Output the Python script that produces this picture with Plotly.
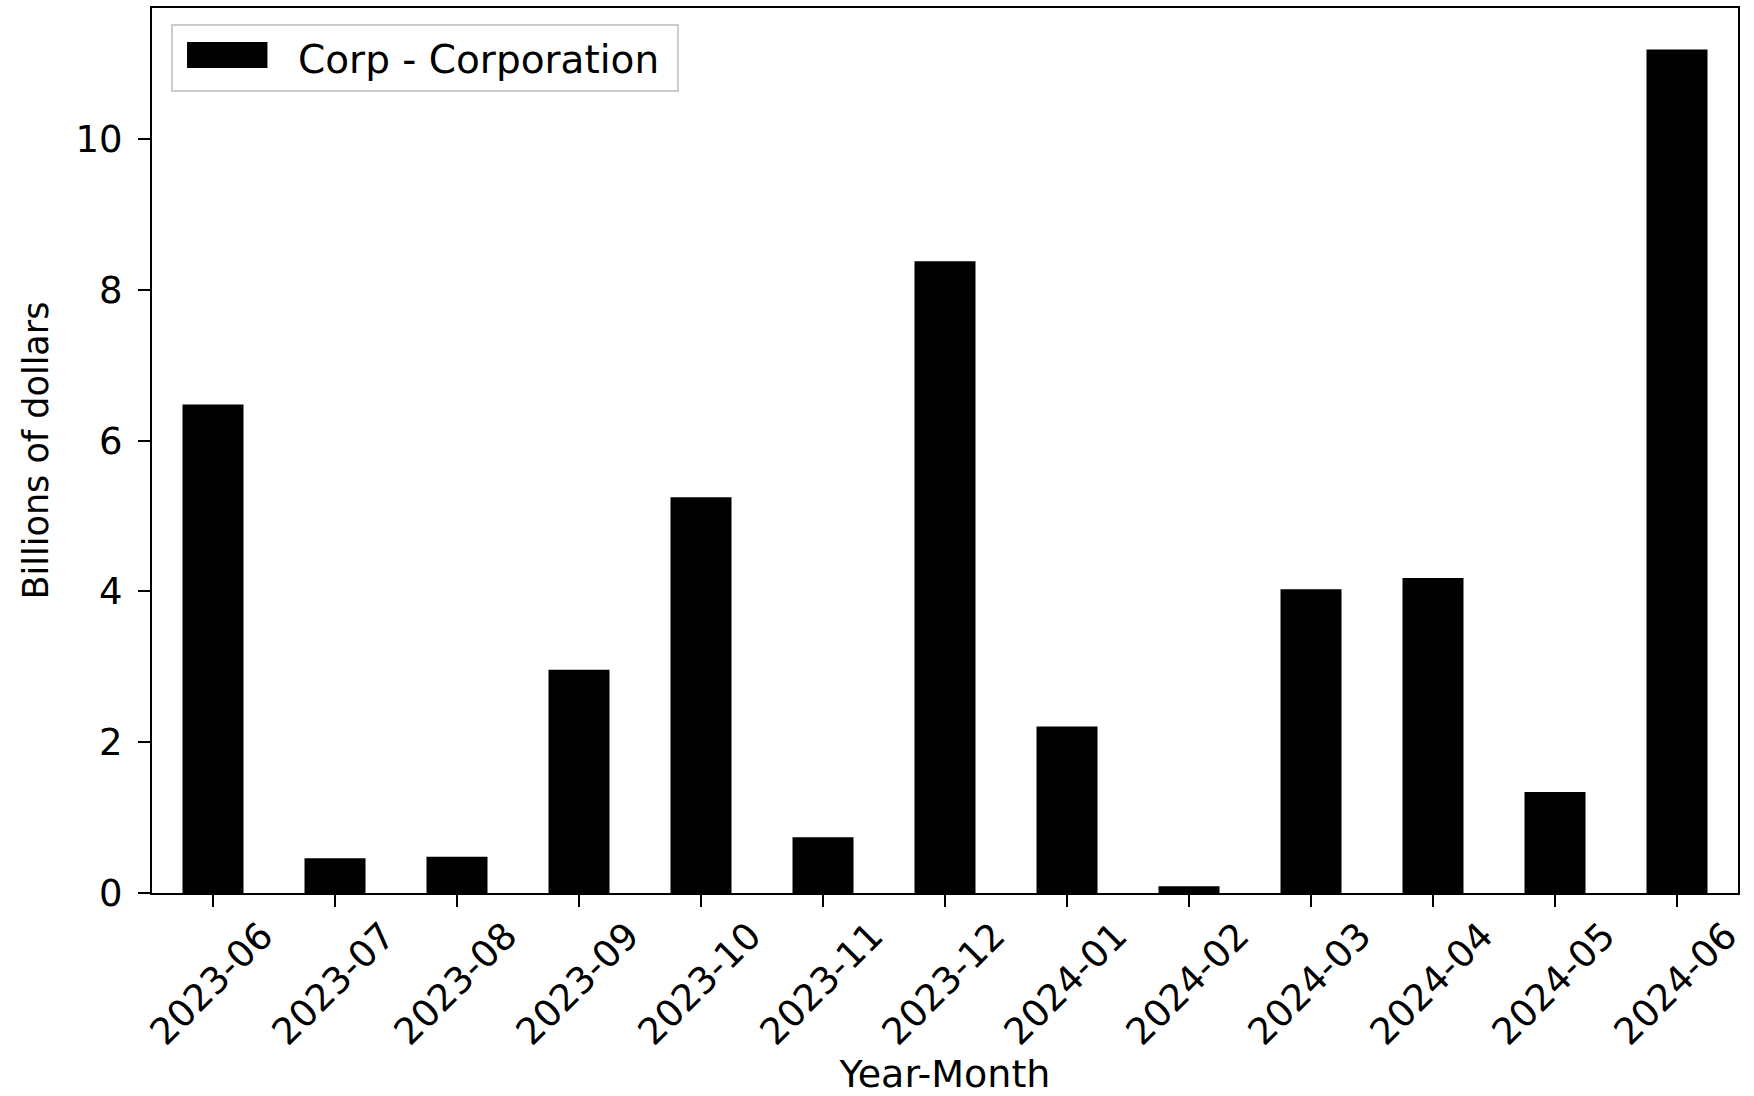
import plotly.graph_objects as go

months = ["2023-06", "2023-07", "2023-08", "2023-09", "2023-10", "2023-11", "2023-12",
          "2024-01", "2024-02", "2024-03", "2024-04", "2024-05", "2024-06"]
values = [6.48, 0.46, 0.48, 2.96, 5.25, 0.74, 8.38, 2.21, 0.09, 4.03, 4.18, 1.34, 11.19]
series_name = "Corp - Corporation"
y_ticks = [0, 2, 4, 6, 8, 10]

FONT = "DejaVu Sans"

fig = go.Figure()
fig.add_trace(go.Bar(x=months, y=values, width=0.5, marker=dict(color="black", line=dict(width=0)),
                     name=series_name, showlegend=False))
# legend entry (symbol hidden; wide swatch drawn as a layout shape like matplotlib's patch)
fig.add_trace(go.Scatter(x=[None], y=[None], mode="lines", name=series_name + "\u00a0",
                         line=dict(color="rgba(0,0,0,0)", width=1)))

fig.add_shape(type="rect", xref="paper", yref="paper",
              x0=0.0221, x1=0.0728, y0=0.9322, y1=0.9616,
              fillcolor="black", line=dict(width=0), layer="above")

fig.update_layout(
    width=1754, height=1096,
    margin=dict(l=152, r=16, t=8, b=203),
    paper_bgcolor="white", plot_bgcolor="white",
    font=dict(family=FONT, size=37, color="black"),
    legend=dict(x=0.012, y=0.982, xanchor="left", yanchor="top",
                bordercolor="#cccccc", borderwidth=2, bgcolor="rgba(0,0,0,0)",
                font=dict(size=39), itemwidth=115),
    xaxis=dict(type="category", range=[-0.5, len(months) - 0.5],
               showline=True, linecolor="black", linewidth=2, mirror=True,
               ticks="outside", ticklen=12, tickwidth=2, tickcolor="black",
               tickangle=-45, ticklabelshift=49, ticklabelstandoff=-8,
               tickfont=dict(size=37),
               title=dict(text="Year-Month", standoff=10, font=dict(size=38)),
               showgrid=False, automargin=False),
    yaxis=dict(range=[0, 11.74], tickvals=y_ticks,
               showline=True, linecolor="black", linewidth=2, mirror=True,
               ticks="outside", ticklen=12, tickwidth=2, tickcolor="black",
               ticklabelstandoff=8, tickfont=dict(size=37),
               title=dict(text="Billions of dollars", standoff=16, font=dict(size=35)),
               showgrid=False, zeroline=False, automargin=False),
)

fig.write_html("out.html", config={"displayModeBar": False},
               post_script="document.body.style.margin='0px';document.body.style.overflow='hidden';")
